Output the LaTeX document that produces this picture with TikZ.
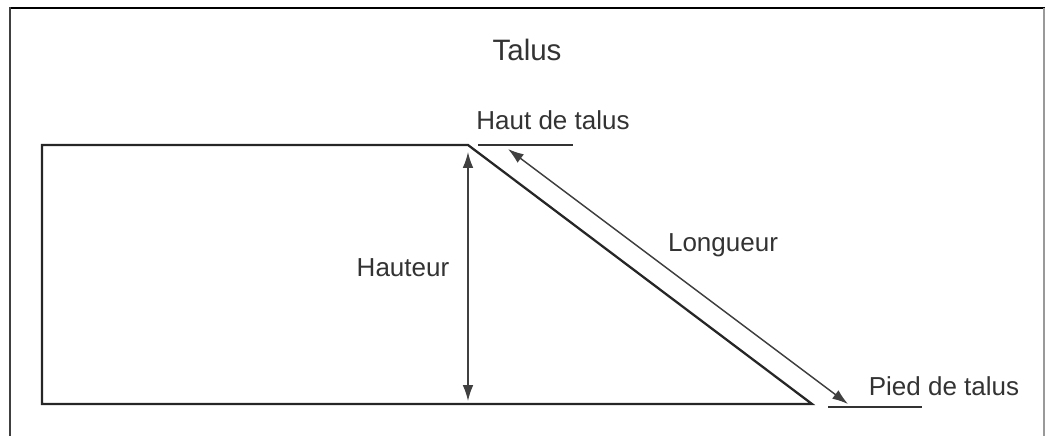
\documentclass[tikz,border=0pt]{standalone}
\usepackage{fontspec}
\setmainfont{Liberation Sans}
\usetikzlibrary{arrows.meta}
\tikzset{
  ground/.style={line width=1.3pt, black!85},
  dim/.style={line width=0.8pt, black!75, {Latex[length=9pt,width=6pt]}-{Latex[length=9pt,width=6pt]}},
  tickline/.style={line width=0.8pt, black!80},
  lbl/.style={font=\fontsize{14.8}{16}\selectfont, text=black!80, inner sep=0pt},
}

\begin{document}
\begin{tikzpicture}[x=0.02cm, y=-0.02cm]
    \useasboundingbox (0,0) rectangle (1048,436);

    % Frame
    \draw[line width=1.6pt, black] (9,8) -- (1045,8);
    \draw[line width=1.1pt, black!75] (10,7) -- (10,436);
    \draw[line width=0.8pt, black!40] (1044,8) -- (1044,436);

    % Corner points
    \coordinate (tl) at (42,145);
    \coordinate (crest) at (468,145);
    \coordinate (toe) at (812,404);
    \coordinate (bl) at (42,404);

    % Embankment
    \draw[ground] (crest) -- (tl) -- (bl) -- (toe) -- cycle;

    % Title
    \node[lbl, font=\fontsize{16.8}{18}\selectfont] (title) at (527,50) {Talus};

    % Haut / Pied de talus
    \node[lbl] (haut) at (553,120) {Haut de talus};
    \coordinate (hautA) at (478,145);
    \coordinate (hautB) at (573,145);
    \draw[tickline] (hautA) -- (hautB);

    \node[lbl] (pied) at (944,386) {Pied de talus};
    \coordinate (piedA) at (828,407);
    \coordinate (piedB) at (922,407);
    \draw[tickline] (piedA) -- (piedB);

    % Hauteur
    \coordinate (hA) at (468,152);
    \coordinate (hB) at (468,401);
    \draw[dim] (hA) -- (hB);
    \node[lbl] (hauteur) at (403,268) {Hauteur};

    % Longueur
    \coordinate (lA) at (508,149);
    \coordinate (lB) at (848,404);
    \draw[dim] (lA) -- (lB);
    \node[lbl] (longueur) at (723,245) {Longueur};
\end{tikzpicture}
\end{document}
